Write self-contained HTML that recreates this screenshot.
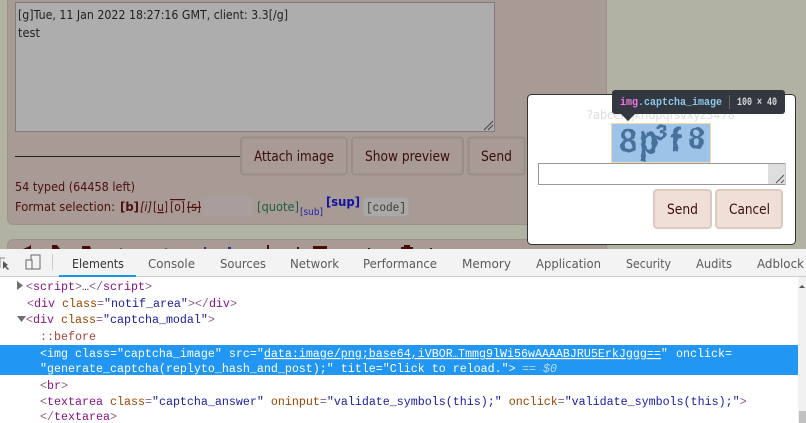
<!DOCTYPE html>
<html><head><meta charset="utf-8"><style>
html,body{margin:0;padding:0;background:#b1b2a2;width:806px;height:423px;overflow:hidden}
svg{display:block}
text{white-space:pre}
.t{font-family:"DejaVu Sans",sans-serif;font-size:12px}
.m{font-family:"Liberation Mono",monospace;font-size:11.67px}
.g{fill:#8a5a88}.n{fill:#881280}.a{fill:#994500}.v{fill:#1a1aa6}.w{fill:#fff}
.c{font-family:"Liberation Sans",sans-serif;font-weight:bold;fill:#47709a}
</style></head><body>
<svg width="806" height="423" viewBox="0 0 806 423" xmlns="http://www.w3.org/2000/svg">
<defs><filter id="wob" x="-5%" y="-5%" width="110%" height="110%"><feTurbulence type="fractalNoise" baseFrequency="0.18" numOctaves="1" seed="4"/><feDisplacementMap in="SourceGraphic" scale="4"/></filter></defs>
<rect width="806" height="423" fill="#b1b2a2"/>
<rect x="7.500" y="-10" width="599" height="234.500" rx="6" fill="#a89a94" stroke="#9e908a"/>
<rect x="15.500" y="2.500" width="479" height="129" fill="#adadad" stroke="#807c7a"/>
<path d="M484 130l9-9M488 130l5-5" stroke="#444" fill="none"/>
<text class="t" x="18" y="19" textLength="270" lengthAdjust="spacingAndGlyphs" fill="#1f1f1f">[g]Tue, 11 Jan 2022 18:27:16 GMT, client: 3.3[/g]</text>
<text class="t" x="18" y="37" textLength="22" lengthAdjust="spacingAndGlyphs" fill="#1f1f1f">test</text>
<rect x="15" y="156" width="226" height="1" fill="#222"/>
<g fill="#a89a94" stroke="#9a8e88" stroke-width="2">
<rect x="241" y="137.500" width="106" height="37" rx="3"/>
<rect x="352" y="137.500" width="111" height="37" rx="3"/>
<rect x="468.500" y="137.500" width="56" height="37" rx="3"/>
</g>
<g class="t" fill="#3a0e0e" style="font-size:14px">
<text x="254" y="161" textLength="80" lengthAdjust="spacingAndGlyphs">Attach image</text>
<text x="365" y="161" textLength="85" lengthAdjust="spacingAndGlyphs">Show preview</text>
<text x="481" y="161" textLength="31" lengthAdjust="spacingAndGlyphs">Send</text>
</g>
<text class="t" x="15" y="191" textLength="120" lengthAdjust="spacingAndGlyphs" fill="#4d0f0f">54 typed (64458 left)</text>
<text class="t" x="15" y="211" textLength="100" lengthAdjust="spacingAndGlyphs" fill="#4d0f0f">Format selection:</text>
<text class="t" x="120" y="211" textLength="19" lengthAdjust="spacingAndGlyphs" fill="#4d0f0f" font-weight="bold">[b]</text>
<text class="t" x="140" y="211" textLength="12" lengthAdjust="spacingAndGlyphs" fill="#4d0f0f" font-style="italic">[i]</text>
<text class="t" x="153" y="211" textLength="15" lengthAdjust="spacingAndGlyphs" fill="#4d0f0f">[<tspan text-decoration="underline">u</tspan>]</text>
<text class="t" x="170" y="211" textLength="15" lengthAdjust="spacingAndGlyphs" fill="#4d0f0f" text-decoration="overline">[o]</text>
<text class="t" x="187" y="211" textLength="14" lengthAdjust="spacingAndGlyphs" fill="#4d0f0f" text-decoration="line-through">[s]</text>
<rect x="202" y="197" width="50" height="19" fill="#aa9d9e"/>
<text class="t" x="257" y="211" textLength="42" lengthAdjust="spacingAndGlyphs" fill="#1f5f45">[quote]</text>
<text class="t" x="300" y="215" textLength="23" lengthAdjust="spacingAndGlyphs" fill="#1f1fa8" style="font-size:10px">[sub]</text>
<text class="t" x="326" y="206" textLength="34" lengthAdjust="spacingAndGlyphs" fill="#1212a0" font-weight="bold">[sup]</text>
<rect x="363" y="197.500" width="46" height="19" rx="4" fill="#aba9a6" stroke="#9f9f9f"/>
<text class="m" x="366" y="211" textLength="40" lengthAdjust="spacingAndGlyphs" fill="#3a3a3a">[code]</text>
<rect x="7.500" y="239.500" width="599" height="20" rx="6" fill="#a89a94" stroke="#9e908a"/>
<g fill="#4a0a0a">
<path d="M23 249l7-3 1-2v5zM52 245h5l3 4h-8zM82 246h8l1 3h-9zM313 246h14v3h-14zM401 247h3v-2h6v2h3v2h-12z"/>
<rect x="267" y="245" width="2" height="4"/>
</g>
<g fill="#2a2a90"><rect x="204" y="247" width="2" height="2"/><rect x="228" y="247" width="3" height="2"/></g>
<g fill="#4b6b4b"><rect x="120" y="248" width="2" height="1"/><rect x="165" y="248" width="2" height="1"/></g>
<g fill="#4a0a0a"><rect x="297" y="247" width="2" height="2"/><rect x="368" y="248" width="2" height="1"/><rect x="430" y="248" width="2" height="1"/></g>
<rect y="249" width="806" height="27" fill="#f3f3f3"/>
<rect y="276" width="806" height="1" fill="#ccc"/>
<rect x="59" y="275" width="77" height="2" fill="#1a97dc"/>
<rect x="52" y="254" width="1" height="16" fill="#ccc"/>
<path d="M3 261l5 4-2 1 3 3-1 1-3-3-2 2z" fill="#555"/>
<path d="M0 258h5M0 258v10" stroke="#888" fill="none"/>
<rect x="31" y="255" width="9" height="14" fill="none" stroke="#666"/>
<rect x="26" y="260" width="6" height="9" fill="#f3f3f3" stroke="#666"/>
<g class="t" fill="#5a5a5a" style="font-size:12.500px">
<text x="72" y="268" textLength="52" lengthAdjust="spacingAndGlyphs" fill="#333">Elements</text>
<text x="148" y="268" textLength="47" lengthAdjust="spacingAndGlyphs">Console</text>
<text x="220" y="268" textLength="46" lengthAdjust="spacingAndGlyphs">Sources</text>
<text x="290" y="268" textLength="49" lengthAdjust="spacingAndGlyphs">Network</text>
<text x="363" y="268" textLength="74" lengthAdjust="spacingAndGlyphs">Performance</text>
<text x="462" y="268" textLength="49" lengthAdjust="spacingAndGlyphs">Memory</text>
<text x="536" y="268" textLength="65" lengthAdjust="spacingAndGlyphs">Application</text>
<text x="626" y="268" textLength="45" lengthAdjust="spacingAndGlyphs">Security</text>
<text x="696" y="268" textLength="36" lengthAdjust="spacingAndGlyphs">Audits</text>
<text x="757" y="268" textLength="47" lengthAdjust="spacingAndGlyphs">Adblock</text>
</g>
<rect y="277" width="806" height="146" fill="#fff"/>
<rect x="798" y="277" width="8" height="146" fill="#f1f1f1"/>
<path d="M802 285l3 3h-6z" fill="#555"/>
<rect x="799" y="411" width="7" height="12" fill="#c1c1c1"/>
<rect y="345" width="798" height="30" fill="#2196f3"/>
<path d="M17 281l6 4.500-6 4.500z" fill="#6e6e6e"/>
<path d="M17 316h9l-4.500 6z" fill="#6e6e6e"/>
<g class="m">
<text x="26" y="290"><tspan class="g">&lt;</tspan><tspan class="n">script</tspan><tspan class="g">&gt;</tspan><tspan fill="#333">…</tspan><tspan class="g">&lt;/</tspan><tspan class="n">script</tspan><tspan class="g">&gt;</tspan></text>
<text x="27" y="307"><tspan class="g">&lt;</tspan><tspan class="n">div</tspan> <tspan class="a">class</tspan><tspan class="g">=</tspan><tspan class="v">"notif_area"</tspan><tspan class="g">&gt;&lt;/</tspan><tspan class="n">div</tspan><tspan class="g">&gt;</tspan></text>
<text x="26" y="323"><tspan class="g">&lt;</tspan><tspan class="n">div</tspan> <tspan class="a">class</tspan><tspan class="g">=</tspan><tspan class="v">"captcha_modal"</tspan><tspan class="g">&gt;</tspan></text>
<text x="40" y="340" fill="#b04040">::before</text>
<text x="40" y="357" fill="#fff">&lt;img class="captcha_image" src="<tspan text-decoration="underline">data:image/png;base64,iVBOR</tspan></text>
<text x="453" y="357" fill="#fff" text-decoration="underline" textLength="5" lengthAdjust="spacingAndGlyphs">…</text>
<text x="458" y="357" fill="#fff"><tspan text-decoration="underline">Tmmg9lWi56wAAAABJRU5ErkJggg==</tspan>"</text>
<text x="676" y="357" fill="#fff">onclick=</text>
<text x="40" y="372" fill="#fff">"generate_captcha(replyto_hash_and_post);" title="Click to reload."&gt;</text>
<text x="522" y="372" fill="#b5dcfa" font-style="italic">== $0</text>
<text x="40" y="389"><tspan class="g">&lt;</tspan><tspan class="n">br</tspan><tspan class="g">&gt;</tspan></text>
<text x="40" y="405"><tspan class="g">&lt;</tspan><tspan class="n">textarea</tspan> <tspan class="a">class</tspan><tspan class="g">=</tspan><tspan class="v">"captcha_answer"</tspan> <tspan class="a">oninput</tspan><tspan class="g">=</tspan><tspan class="v">"validate_symbols(this);"</tspan> <tspan class="a">onclick</tspan><tspan class="g">=</tspan><tspan class="v">"validate_symbols(this);"</tspan><tspan class="g">&gt;</tspan></text>
<text x="40" y="420"><tspan class="g">&lt;/</tspan><tspan class="n">textarea</tspan><tspan class="g">&gt;</tspan></text>
</g>
<rect x="527.500" y="94.500" width="268" height="150" rx="4" fill="#fff" stroke="#333"/>
<text class="t" x="587" y="119" textLength="148" lengthAdjust="spacingAndGlyphs" fill="#dcdcdc">?abcefgjknopqrsvxyz3478</text>
<rect x="611.500" y="123.500" width="99" height="39" fill="#9dc3e8" stroke="#f3dca0"/>
<svg x="612" y="124" width="98" height="38">
<g filter="url(#wob)">
<text class="c" font-size="33" transform="translate(7,28)">8</text>
<text class="c" font-size="40" transform="translate(27,29) scale(.78,1)">p</text>
<text class="c" font-size="23" transform="translate(43,16)">3</text>
<text class="c" font-size="34" transform="translate(58,28)">f</text>
<text class="c" font-size="30" transform="translate(76,24)">8</text>
</g>
</svg>
<rect x="538.500" y="163.500" width="246.500" height="21" fill="#fff" stroke="#999"/>
<rect x="768" y="164" width="17" height="20" fill="#dedede"/>
<path d="M776 183l8-8M781 183l3-3" stroke="#555" fill="none"/>
<rect x="654" y="190" width="57" height="38" rx="3" fill="#f0dfd6" stroke="#dcc9c0" stroke-width="2"/>
<rect x="716" y="190" width="66" height="38" rx="3" fill="#f0dfd6" stroke="#dcc9c0" stroke-width="2"/>
<text class="t" x="667" y="214" style="font-size:14px" textLength="31" lengthAdjust="spacingAndGlyphs" fill="#3a0e0e">Send</text>
<text class="t" x="729" y="214" style="font-size:14px" textLength="41" lengthAdjust="spacingAndGlyphs" fill="#3a0e0e">Cancel</text>
<rect x="612" y="90" width="173" height="24" rx="3" fill="#333740"/>
<path d="M621 114h14l-7 7z" fill="#333740"/>
<g style="font-family:'Liberation Mono',monospace;font-size:11px;font-weight:bold">
<text x="620" y="105" textLength="102" lengthAdjust="spacingAndGlyphs"><tspan fill="#ee78e6">img</tspan><tspan fill="#8bc9e8">.captcha_image</tspan></text>
<text x="737" y="105" fill="#dcdcdc" textLength="40" lengthAdjust="spacingAndGlyphs">100 × 40</text>
</g>
<rect x="729" y="95" width="1" height="14" fill="#666"/>
</svg>
</body></html>
